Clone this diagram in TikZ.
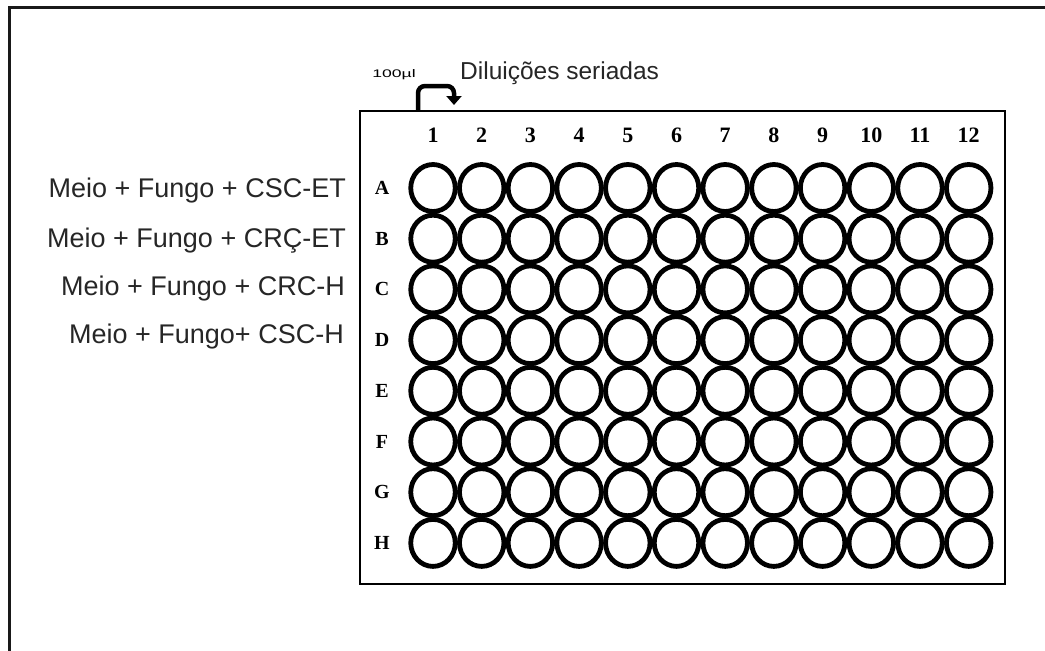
\documentclass[tikz,border=0pt]{standalone}
\usepackage{fontspec}
\setmainfont{Liberation Sans}
\newfontfamily\platefont{Liberation Serif}
\usetikzlibrary{shapes.geometric,arrows.meta}

\tikzset{
  frameline/.style={line width=3pt, black!90},
  platebox/.style={draw, line width=2pt, minimum width=645pt, minimum height=473pt, inner sep=0pt},
  well/.style={ellipse, draw, line width=4.8pt, minimum width=44.5pt, minimum height=47pt, inner sep=0pt},
  colnum/.style={font=\platefont\bfseries\fontsize{22}{22}\selectfont, inner sep=0pt},
  rowlet/.style={font=\platefont\bfseries\fontsize{20}{20}\selectfont, inner sep=0pt},
  rowlabel/.style={anchor=east, inner sep=0pt, font=\fontsize{27}{27}\selectfont, text=black!85},
  dilarrow/.style={line width=4.5pt, rounded corners=7pt, -{Triangle[width=15pt,length=9pt]}}
}

\begin{document}
\begin{tikzpicture}[x=1pt, y=-1pt]
\useasboundingbox (0,0) rectangle (1045,651);
\fill[white] (0,0) rectangle (1045,651);
\begin{scope}
  \clip (0,0) rectangle (1045,651);
  % outer frame: only its top and left sides fall inside the page
  \draw[frameline] (9,670) -- (9,7) -- (1070,7);
\end{scope}

% the plate
\node[platebox] (plate) at (682.5,347.5) {};

% column numbers and wells
\foreach \c in {1,...,12} {
  \pgfmathsetmacro{\xx}{433 + 48.7*(\c-1)}
  \node[colnum] (col\c) at (\xx,135) {\c};
}
\foreach \r [count=\j] in {A,B,C,D,E,F,G,H} {
  \pgfmathsetmacro{\yy}{188 + 50.7*(\j-1)}
  \node[rowlet] (row\r) at (382,\yy) {\r};
  \foreach \c in {1,...,12} {
    \pgfmathsetmacro{\xx}{433 + 48.7*(\c-1)}
    \node[well] (w\r\c) at (\xx,\yy) {};
  }
}

% treatment labels for rows A-D
\node[rowlabel] (labA) at (346,191) {Meio + Fungo + CSC-ET};
\node[rowlabel] (labB) at (346,241) {Meio + Fungo + CRÇ-ET};
\node[rowlabel] (labC) at (345,289) {Meio + Fungo + CRC-H};
\node[rowlabel] (labD) at (344,337) {Meio + Fungo+ CSC-H};

% serial dilution arrow
\coordinate (src) at (418,110);
\coordinate (turn) at (454,86);
\coordinate (dst) at (454,105);
\draw[dilarrow] (src) |- (turn) -- (dst);

\node[inner sep=0pt] (vol) at (394,75) {\scalebox{1.6}[1]{\fontsize{11}{11}\selectfont 100µl}};
\node[anchor=west, inner sep=0pt, font=\fontsize{24.5}{24.5}\selectfont, text=black!85] (dil) at (460,73) {Diluições seriadas};
\end{tikzpicture}
\end{document}
